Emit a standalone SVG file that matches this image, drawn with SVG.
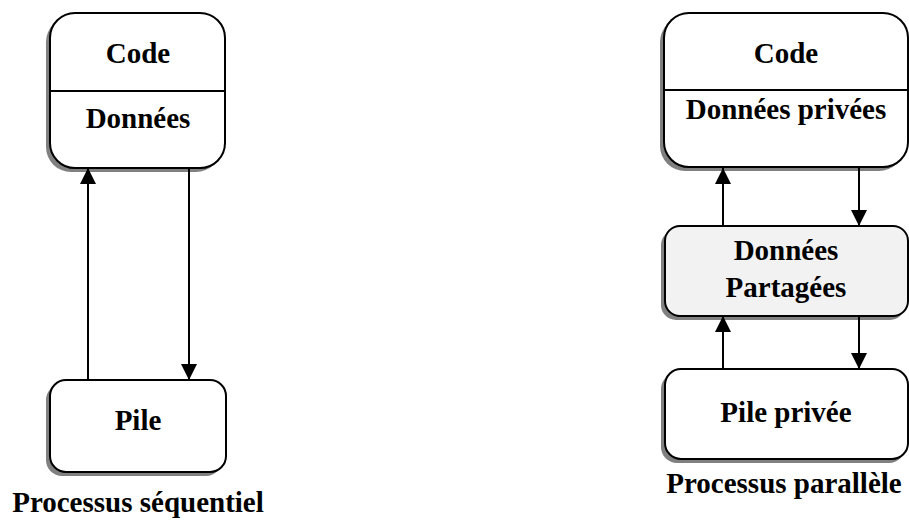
<svg xmlns="http://www.w3.org/2000/svg" width="909" height="522" viewBox="0 0 909 522">
  <defs>
    <style>
      .box { fill: #ffffff; stroke: #000000; stroke-width: 2; }
      .shared { fill: #f2f2f2; stroke: #000000; stroke-width: 2; }
      .shadow { fill: #808080; stroke: none; }
      .div { stroke: #000000; stroke-width: 2; }
      .lbl { font-family: "Liberation Serif", "Times New Roman", serif; font-weight: bold; font-size: 29px; fill: #000000; text-anchor: middle; }
      .edge { stroke: #000000; stroke-width: 2; fill: none; marker-end: url(#head); }
    </style>
    <marker id="head" markerUnits="userSpaceOnUse" markerWidth="16" markerHeight="16" viewBox="0 0 16 16" refX="16" refY="8" orient="auto">
      <path d="M0,0 L16,8 L0,16 Z" fill="#000000"/>
    </marker>
  </defs>

  <!-- Sequential process -->
  <g id="seq-code">
    <rect class="shadow" x="46" y="17" width="175" height="155" rx="25"/>
    <rect class="box" x="50" y="13" width="175" height="155" rx="25"/>
    <line class="div" x1="50" y1="91" x2="225" y2="91"/>
    <text class="lbl" x="138" y="63">Code</text>
    <text class="lbl" x="138" y="128">Données</text>
  </g>
  <g id="seq-pile">
    <rect class="shadow" x="46" y="384" width="176" height="92" rx="16"/>
    <rect class="box" x="50" y="380" width="176" height="92" rx="16"/>
    <text class="lbl" x="138" y="430">Pile</text>
  </g>
  <text id="seq-caption" class="lbl" x="138" y="512">Processus séquentiel</text>

  <!-- Parallel process -->
  <g id="par-code">
    <rect class="shadow" x="660" y="17" width="244" height="154" rx="25"/>
    <rect class="box" x="664" y="13" width="244" height="154" rx="25"/>
    <line class="div" x1="664" y1="90" x2="908" y2="90"/>
    <text class="lbl" x="786" y="63">Code</text>
    <text class="lbl" x="786" y="119">Données privées</text>
  </g>
  <g id="par-shared">
    <rect class="shadow" x="661" y="230" width="244" height="90" rx="15"/>
    <rect class="shared" x="665" y="226" width="243" height="90" rx="15"/>
    <text class="lbl" x="786" y="260">Données</text>
    <text class="lbl" x="786" y="297">Partagées</text>
  </g>
  <g id="par-pile">
    <rect class="shadow" x="661" y="373" width="244" height="90" rx="16"/>
    <rect class="box" x="665" y="369" width="243" height="90" rx="16"/>
    <text class="lbl" x="786" y="422">Pile privée</text>
  </g>
  <text id="par-caption" class="lbl" x="784" y="493">Processus parallèle</text>

  <!-- Connectors -->
  <g id="connectors">
    <line class="edge" x1="88" y1="380" x2="88" y2="168"/>
    <line class="edge" x1="189" y1="168" x2="189" y2="380"/>
    <line class="edge" x1="723" y1="226" x2="723" y2="168"/>
    <line class="edge" x1="859" y1="168" x2="859" y2="226"/>
    <line class="edge" x1="723" y1="369" x2="723" y2="316"/>
    <line class="edge" x1="859" y1="316" x2="859" y2="369"/>
  </g>
</svg>
